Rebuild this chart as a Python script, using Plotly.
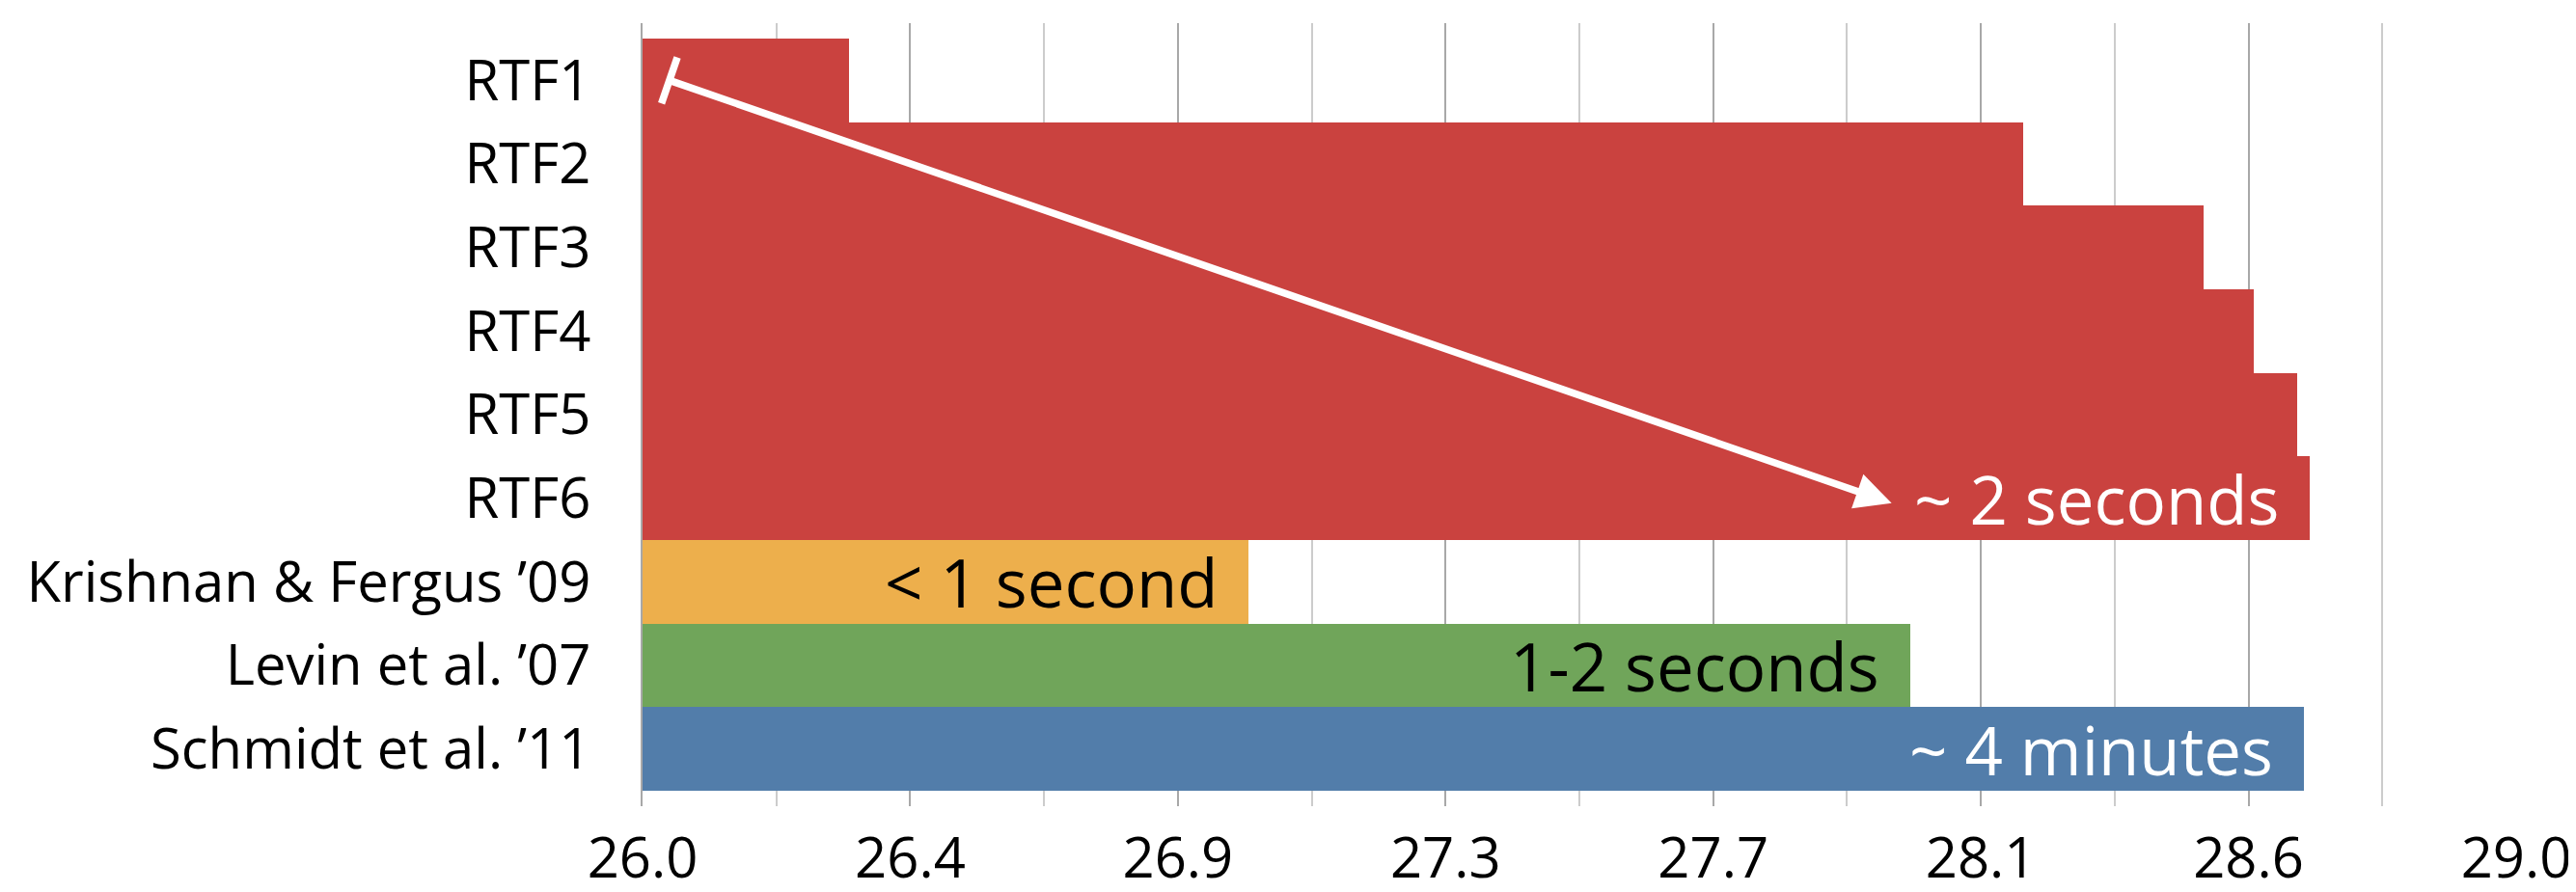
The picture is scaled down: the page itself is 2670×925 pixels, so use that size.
import plotly.graph_objects as go

# ---- data ----
methods = ["RTF1", "RTF2", "RTF3", "RTF4", "RTF5", "RTF6",
           "Krishnan & Fergus ’09", "Levin et al. ’07", "Schmidt et al. ’11"]
psnr = [26.33, 28.21, 28.50, 28.58, 28.65, 28.67, 26.97, 28.03, 28.66]
runtime_labels = ["", "", "", "", "", "~ 2 seconds", "< 1 second", "1-2 seconds", "~ 4 minutes"]
x_ticks = [26 + k * 3 / 7 for k in range(8)]
x_tick_text = ["26.0", "26.4", "26.9", "27.3", "27.7", "28.1", "28.6", "29.0"]

# ---- style ----
RED, ORANGE, GREEN, BLUE = "#CA423F", "#EDAF4C", "#70A55A", "#527DAA"
bar_colors = [RED] * 6 + [ORANGE, GREEN, BLUE]
label_colors = ["white"] * 6 + ["black", "black", "white"]
FONT = "Open Sans"

fig = go.Figure()
fig.add_trace(go.Bar(
    x=psnr, y=methods, orientation="h",
    marker=dict(color=bar_colors, line=dict(width=0)),
    showlegend=False, hoverinfo="x+y",
))

# arrow from RTF1 down to RTF6, with a perpendicular tail bar
arrow_start_x, arrow_start_y = 26.043, 0.0
arrow_end_x, arrow_end_y = 28.0, 5.06
fig.add_trace(go.Scatter(
    x=[arrow_start_x], y=[methods[0]], mode="markers",
    marker=dict(symbol="line-ns", size=36, angle=19,
                line=dict(color="white", width=7.5)),
    showlegend=False, hoverinfo="skip",
))
fig.add_annotation(
    x=arrow_end_x, y=arrow_end_y, ax=arrow_start_x, ay=arrow_start_y,
    xref="x", yref="y", axref="x", ayref="y",
    text="", showarrow=True, arrowhead=2, arrowsize=1.0, arrowwidth=7.5,
    arrowcolor="white", standoff=0, startstandoff=0,
)

for m, v, lab, col in zip(methods, psnr, runtime_labels, label_colors):
    if lab:
        fig.add_annotation(
            x=v, y=m, xref="x", yref="y", text=lab, showarrow=False,
            xanchor="right", yanchor="middle", xshift=-30,
            font=dict(family=FONT, size=69, color=col),
        )

fig.update_layout(
    width=2670, height=925,
    margin=dict(l=658, r=70, t=16, b=97),
    paper_bgcolor="white", plot_bgcolor="white",
    bargap=0,
    font=dict(family=FONT, size=58, color="black"),
)
fig.update_xaxes(
    range=[26, 29], tickvals=x_ticks, ticktext=x_tick_text,
    showgrid=True, gridcolor="#a8a8a8", gridwidth=2,
    minor=dict(tick0=26, dtick=3 / 14, showgrid=True, gridcolor="#cccccc", gridwidth=1.5),
    zeroline=False, showline=False, ticks="",
    ticklabelstandoff=15, automargin=False,
    tickfont=dict(family=FONT, size=58, color="black"),
)
fig.update_yaxes(
    categoryorder="array", categoryarray=methods,
    range=[8.685, -0.685],
    showgrid=False, zeroline=False,
    showline=True, linecolor="#a8a8a8", linewidth=2,
    ticks="", ticklabelstandoff=40, automargin=False,
    tickfont=dict(family=FONT, size=58, color="black"),
)

fig.write_html("out.html")
